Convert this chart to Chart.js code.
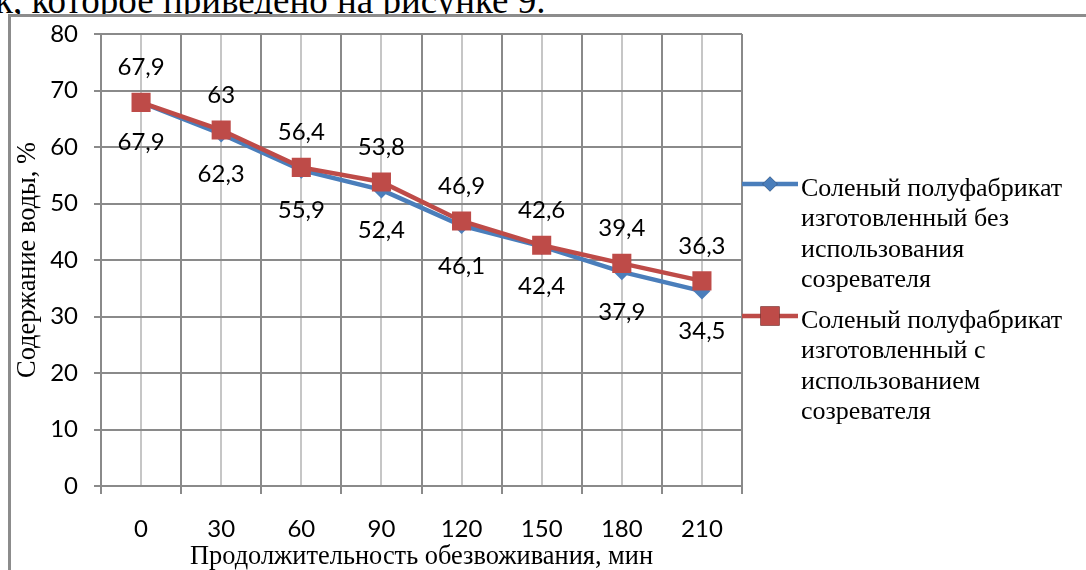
<!DOCTYPE html>
<html>
<head>
<meta charset="utf-8">
<script src="https://cdn.jsdelivr.net/npm/chart.js@4/dist/chart.umd.min.js"></script>
<style>
  html, body { margin: 0; padding: 0; width: 1086px; height: 570px; overflow: hidden; background: #fff; }
  #lead { position: absolute; left: -5px; top: -18px; font: 37px "Liberation Serif", serif; line-height: 1; white-space: nowrap; color: #000; }
  #frame { position: absolute; left: 8px; top: 14px; width: 1200px; height: 700px; border-left: 3px solid #8c8c8c; border-top: 3px solid #8c8c8c; background: #fff; }
  #wrap { position: absolute; left: 0; top: 0; width: 1086px; height: 570px; }
</style>
</head>
<body>
<div id="lead">к, которое приведено на рисунке 9.</div>
<div id="frame"></div>
<div id="wrap"><canvas id="chart" width="1086" height="570"></canvas></div>
<script>
// Время обезвоживания, мин
const minutes = ['0', '30', '60', '90', '120', '150', '180', '210'];
// Содержание воды, %
const withoutRipener = [67.9, 62.3, 55.9, 52.4, 46.1, 42.4, 37.9, 34.5];
const withRipener = [67.9, 63, 56.4, 53.8, 46.9, 42.6, 39.4, 36.3];
// Шкала оси Y
const yMin = 0;
const yMax = 80;
const yStep = 10;

const legendWithout = ['Соленый полуфабрикат', 'изготовленный без', 'использования', 'созревателя'];
const legendWith = ['Соленый полуфабрикат', 'изготовленный с', 'использованием', 'созревателя'];
const xTitle = 'Продолжительность обезвоживания, мин';
const yTitle = 'Содержание воды, %';

const BLUE = '#4a7ebb';
const RED = '#be4b48';
const GRID = '#8a8a8a';
const GRID_LIGHT = '#c6c6c6';
const SANS = 'Lato, "Open Sans", sans-serif';
const SERIF = '"Liberation Serif", "Times New Roman", serif';

const fmt = v => String(v).replace('.', ',');

// Light vertical lines through each category centre
const centreLines = {
  id: 'centreLines',
  beforeDraw(chart) {
    const { ctx, chartArea, scales } = chart;
    const x = scales.x;
    ctx.save();
    ctx.strokeStyle = GRID_LIGHT;
    ctx.lineWidth = 2;
    minutes.forEach((_, i) => {
      const px = Math.round(x.getPixelForValue(i));
      ctx.beginPath();
      ctx.moveTo(px, chartArea.top);
      ctx.lineTo(px, chartArea.bottom);
      ctx.stroke();
    });
    ctx.restore();
  }
};

// Value labels: upper series above its points, lower series below
const valueLabels = {
  id: 'valueLabels',
  afterDatasetsDraw(chart) {
    const { ctx } = chart;
    ctx.save();
    ctx.font = '24px ' + SANS;
    ctx.fillStyle = '#000';
    ctx.textAlign = 'center';
    ctx.textBaseline = 'alphabetic';
    chart.data.datasets.forEach((ds, di) => {
      const meta = chart.getDatasetMeta(di);
      const dy = ds.labelAbove ? -27 : 48;
      meta.data.forEach((pt, i) => {
        ctx.fillText(fmt(ds.data[i]), pt.x, pt.y + dy);
      });
    });
    ctx.restore();
  }
};

// Legend at the right: line with marker and wrapped caption
const sideLegend = {
  id: 'sideLegend',
  afterDraw(chart) {
    const { ctx, chartArea } = chart;
    const items = [
      { ds: chart.data.datasets[1], lines: legendWithout, y: 184 },
      { ds: chart.data.datasets[0], lines: legendWith, y: 316 }
    ];
    const x0 = chartArea.right;
    const x1 = x0 + 56;
    items.forEach(it => {
      ctx.save();
      ctx.strokeStyle = it.ds.borderColor;
      ctx.lineWidth = 4.5;
      ctx.beginPath();
      ctx.moveTo(x0, it.y);
      ctx.lineTo(x1, it.y);
      ctx.stroke();
      Chart.helpers.drawPoint(ctx, {
        pointStyle: it.ds.pointStyle,
        radius: it.ds.pointStyle === 'rect' ? 13.5 : 7.5,
        borderWidth: 0,
        rotation: 0
      }, (x0 + x1) / 2, it.y);
      ctx.fillStyle = it.ds.pointBackgroundColor;
      ctx.fill();
      ctx.fillStyle = '#000';
      ctx.font = '26px ' + SERIF;
      ctx.textAlign = 'left';
      ctx.textBaseline = 'alphabetic';
      it.lines.forEach((t, k) => ctx.fillText(t, x1 + 3, it.y + 12 + k * 30.4));
      ctx.restore();
    });
  }
};

new Chart(document.getElementById('chart'), {
  type: 'line',
  data: {
    labels: minutes,
    datasets: [
      {
        label: legendWith.join(' '),
        data: withRipener,
        borderColor: RED,
        backgroundColor: RED,
        pointBackgroundColor: RED,
        pointBorderWidth: 0,
        pointStyle: 'rect',
        pointRadius: 13.5,
        pointHoverRadius: 13.5,
        borderWidth: 4.5,
        tension: 0,
        order: 0,
        labelAbove: true
      },
      {
        label: legendWithout.join(' '),
        data: withoutRipener,
        borderColor: BLUE,
        backgroundColor: BLUE,
        pointBackgroundColor: BLUE,
        pointBorderWidth: 0,
        pointStyle: 'rectRot',
        pointRadius: 8.5,
        pointHoverRadius: 8.5,
        borderWidth: 4.5,
        tension: 0,
        order: 1,
        labelAbove: false
      }
    ]
  },
  options: {
    responsive: false,
    animation: false,
    events: [],
    layout: { padding: { left: 0, top: 34, right: 344, bottom: 0 } },
    plugins: {
      legend: { display: false },
      tooltip: { enabled: false }
    },
    scales: {
      x: {
        type: 'category',
        offset: true,
        afterFit(s) { s.height = 84; },
        grid: { offset: true, color: GRID, lineWidth: 2, tickLength: 8, tickColor: GRID },
        border: { color: GRID, width: 2 },
        ticks: { color: '#000', font: { family: SANS, size: 24 }, padding: 21, maxRotation: 0 },
        title: { display: true, text: xTitle, color: '#000', font: { family: SERIF, size: 26.4, lineHeight: 1 }, padding: { top: 0, bottom: 0 } }
      },
      y: {
        min: yMin,
        max: yMax,
        afterFit(s) { s.width = 101; },
        ticks: { stepSize: yStep, color: '#000', font: { family: SANS, size: 24 }, padding: 16 },
        grid: { color: GRID, lineWidth: 2, tickLength: 7, tickColor: GRID },
        border: { color: GRID, width: 2 },
        title: { display: true, text: yTitle, color: '#000', font: { family: SERIF, size: 26.4, lineHeight: 1 }, padding: { top: 15, bottom: 0 } }
      }
    }
  },
  plugins: [centreLines, valueLabels, sideLegend]
});
</script>
</body>
</html>
